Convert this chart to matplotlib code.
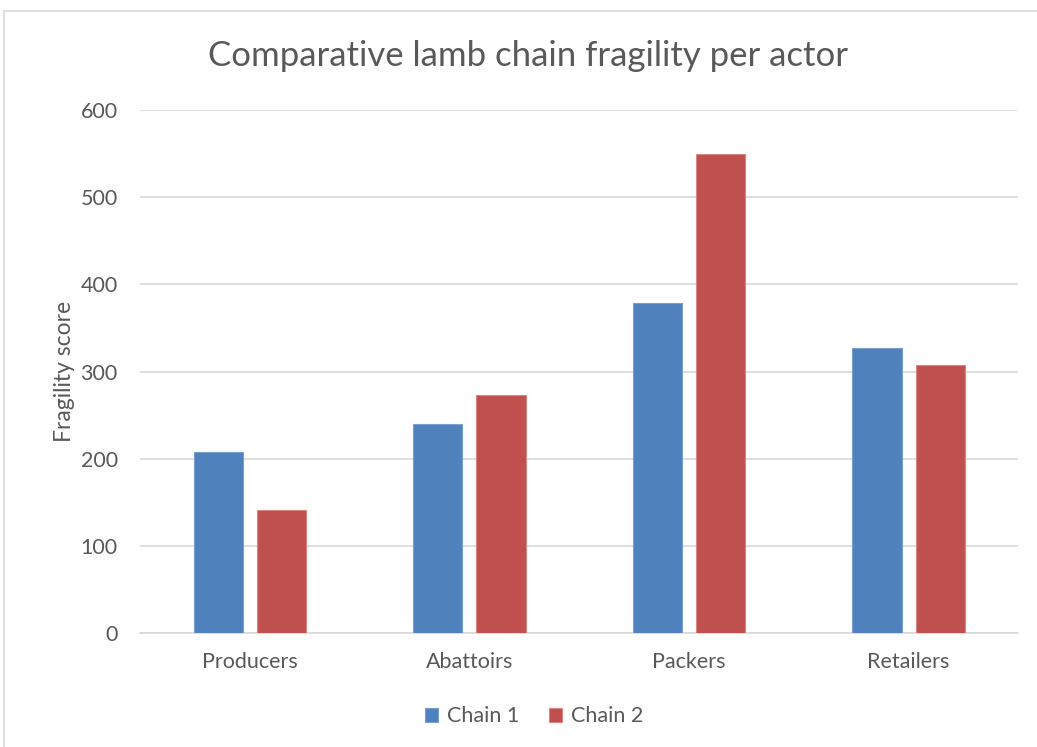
import numpy as np
import matplotlib
matplotlib.use("Agg")
import matplotlib.pyplot as plt
from matplotlib.patches import Rectangle

# data
actors = ["Producers", "Abattoirs", "Packers", "Retailers"]
chain1 = [208, 240, 379, 327]
chain2 = [141, 273, 550, 307]
yticks = [0, 100, 200, 300, 400, 500, 600]

plt.rcParams["font.family"] = ["Lato", "DejaVu Sans"]
text_grey = "#595959"

fig = plt.figure(figsize=(10.37, 7.47), dpi=100)
ax = fig.add_axes([0.135, 0.1526, 0.847, 0.7001])

# outer chart border
fig.patches.append(Rectangle((4 / 1037, -0.1), 1.2, 1 - 11 / 747 + 0.1,
                             transform=fig.transFigure, fill=False,
                             edgecolor="#D9D9D9", linewidth=1.2))

x = np.arange(len(actors))
w = 0.224
off = 0.144
ax.bar(x - off, chain1, w, color="#4F81BD", edgecolor="#7A9ED0", linewidth=0.8,
       label="Chain 1", zorder=3)
ax.bar(x + off, chain2, w, color="#C0504D", edgecolor="#D88683", linewidth=0.8,
       label="Chain 2", zorder=3)

ax.set_xlim(-0.5, len(actors) - 0.5)
ax.set_ylim(0, 600)
ax.set_yticks(yticks)
ax.set_xticks(x)
ax.set_xticklabels(actors)
ax.yaxis.grid(True, color="#D9D9D9", linewidth=1.2, zorder=0)
ax.set_axisbelow(True)

for s in ["top", "right", "left"]:
    ax.spines[s].set_visible(False)
ax.spines["bottom"].set_color("#D9D9D9")
ax.spines["bottom"].set_linewidth(1.2)
ax.tick_params(axis="both", length=0, labelsize=15.5, colors=text_grey)
ax.tick_params(axis="x", pad=14)
ax.tick_params(axis="y", pad=16)

ax.set_ylabel("Fragility score", fontsize=16.5, color=text_grey, labelpad=4)
fig.text(0.509, 0.925, "Comparative lamb chain fragility per actor",
         ha="center", va="center", fontsize=25, color=text_grey)

leg = fig.legend(loc="center", bbox_to_anchor=(0.515, 0.041), ncol=2, frameon=False,
                 fontsize=15.5, handlelength=0.6, handleheight=0.6,
                 handletextpad=0.4, columnspacing=1.4)
for t in leg.get_texts():
    t.set_color(text_grey)

fig.savefig("out.png", dpi=100)
